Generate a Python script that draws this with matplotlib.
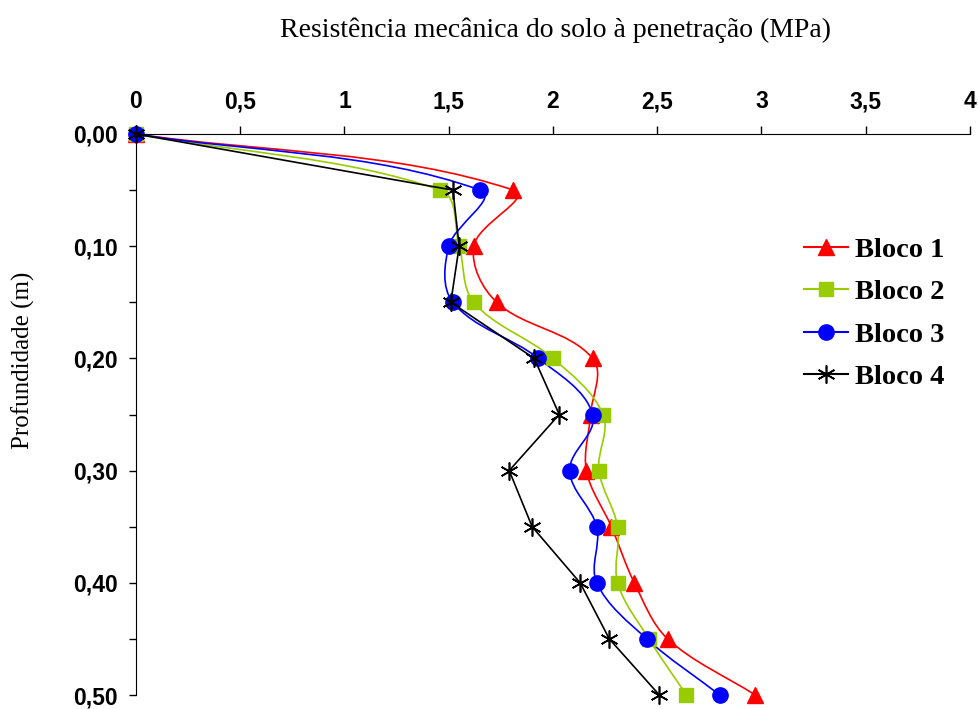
import numpy as np
import matplotlib
matplotlib.use('Agg')
import matplotlib.pyplot as plt
from matplotlib.path import Path
from matplotlib.patches import PathPatch
from matplotlib.lines import Line2D

depth = [0.00, 0.05, 0.10, 0.15, 0.20, 0.25, 0.30, 0.35, 0.40, 0.45, 0.50]
bloco1 = [0, 1.81, 1.62, 1.73, 2.19, 2.18, 2.16, 2.28, 2.39, 2.55, 2.97]
bloco2 = [0, 1.46, 1.55, 1.62, 2.00, 2.24, 2.22, 2.31, 2.31, 2.46, 2.64]
bloco3 = [0, 1.65, 1.50, 1.52, 1.93, 2.19, 2.08, 2.21, 2.21, 2.45, 2.80]
bloco4 = [0, 1.52, 1.55, 1.51, 1.91, 2.03, 1.79, 1.90, 2.13, 2.27, 2.51]

x_ticks = [0, 0.5, 1, 1.5, 2, 2.5, 3, 3.5, 4]
x_labels = ['0', '0,5', '1', '1,5', '2', '2,5', '3', '3,5', '4']
y_ticks = [0.0, 0.1, 0.2, 0.3, 0.4, 0.5]
y_labels = ['0,00', '0,10', '0,20', '0,30', '0,40', '0,50']


def smooth_path(ax, xs, ys):
    # excel style smoothed line: bezier segments, tangent parallel to
    # (next - prev), arm length a third of the segment length on screen
    pts = np.column_stack([xs, ys]).astype(float)
    scr = ax.transData.transform(pts)
    n = len(pts)

    def dist(i, j):
        return np.hypot(*(scr[j] - scr[i]))

    verts = [pts[0]]
    codes = [Path.MOVETO]
    for i in range(n - 1):
        i0 = max(i - 1, 0)
        i3 = min(i + 2, n - 1)
        d12 = dist(i, i + 1)
        c1 = pts[i] + (pts[i + 1] - pts[i0]) * d12 / (3 * dist(i0, i + 1))
        c2 = pts[i + 1] - (pts[i3] - pts[i]) * d12 / (3 * dist(i, i3))
        verts += [c1, c2, pts[i + 1]]
        codes += [Path.CURVE4] * 3
    return Path(verts, codes)


fig = plt.figure(figsize=(9.79, 7.09), dpi=100)
ax = fig.add_axes([136 / 979, 1 - 695 / 709, (970 - 136) / 979, (695 - 134) / 709])
ax.set_xlim(0, 4)
ax.set_ylim(0.5, 0)

series = [
    ('Bloco 1', bloco1, '#FF0000', '^', 12, True),
    ('Bloco 2', bloco2, '#99CC00', 's', 10.5, True),
    ('Bloco 3', bloco3, '#0000FF', 'o', 11, True),
    ('Bloco 4', bloco4, '#000000', (6, 2, 0), 13, False),
]

handles = []
for name, vals, col, mk, ms, smooth in series:
    if smooth:
        ax.add_patch(PathPatch(smooth_path(ax, vals, depth), facecolor='none',
                               edgecolor=col, lw=1.2, clip_on=False))
        ax.plot(vals, depth, linestyle='none', marker=mk, ms=ms, color=col,
                mec=col, clip_on=False)
    else:
        ax.plot(vals, depth, '-', lw=1.2, marker=mk, ms=ms, color=col,
                mew=1.2, clip_on=False)
    handles.append(Line2D([], [], color=col, lw=1.5, marker=mk, ms=ms,
                          mew=1.2 if not smooth else 1))

ax.xaxis.tick_top()
ax.set_xticks(x_ticks)
ax.set_xticklabels(x_labels)
ax.set_yticks(y_ticks)
ax.set_yticklabels(y_labels)
ax.set_yticks(np.arange(0.05, 0.5, 0.1), minor=True)
for lab in ax.get_xticklabels() + ax.get_yticklabels():
    lab.set_fontfamily('Liberation Sans')
    lab.set_fontweight('bold')
    lab.set_fontsize(16.5)
ax.tick_params(axis='x', which='major', direction='out', length=6, width=1, pad=9)
ax.tick_params(axis='y', which='both', direction='out', length=5, width=1, pad=8)
ax.spines['right'].set_visible(False)
ax.spines['bottom'].set_visible(False)

fig.text(556 / 979, 1 - 30 / 709, 'Resistência mecânica do solo à penetração (MPa)',
         ha='center', va='center', fontsize=20, family='Liberation Serif')
fig.text(23 / 979, 1 - 360 / 709, 'Profundidade (m)', rotation=90,
         ha='center', va='center', fontsize=18, family='Liberation Serif')

ax.legend(handles, [s[0] for s in series], loc='upper left',
          bbox_to_anchor=(804 / 979, 1 - 237 / 709), bbox_transform=fig.transFigure,
          frameon=False, borderpad=0, borderaxespad=0,
          handlelength=1.55, handletextpad=0.25, labelspacing=0.58,
          prop={'family': 'Liberation Serif', 'weight': 'bold', 'size': 20.5})

fig.savefig('out.png', dpi=100)
